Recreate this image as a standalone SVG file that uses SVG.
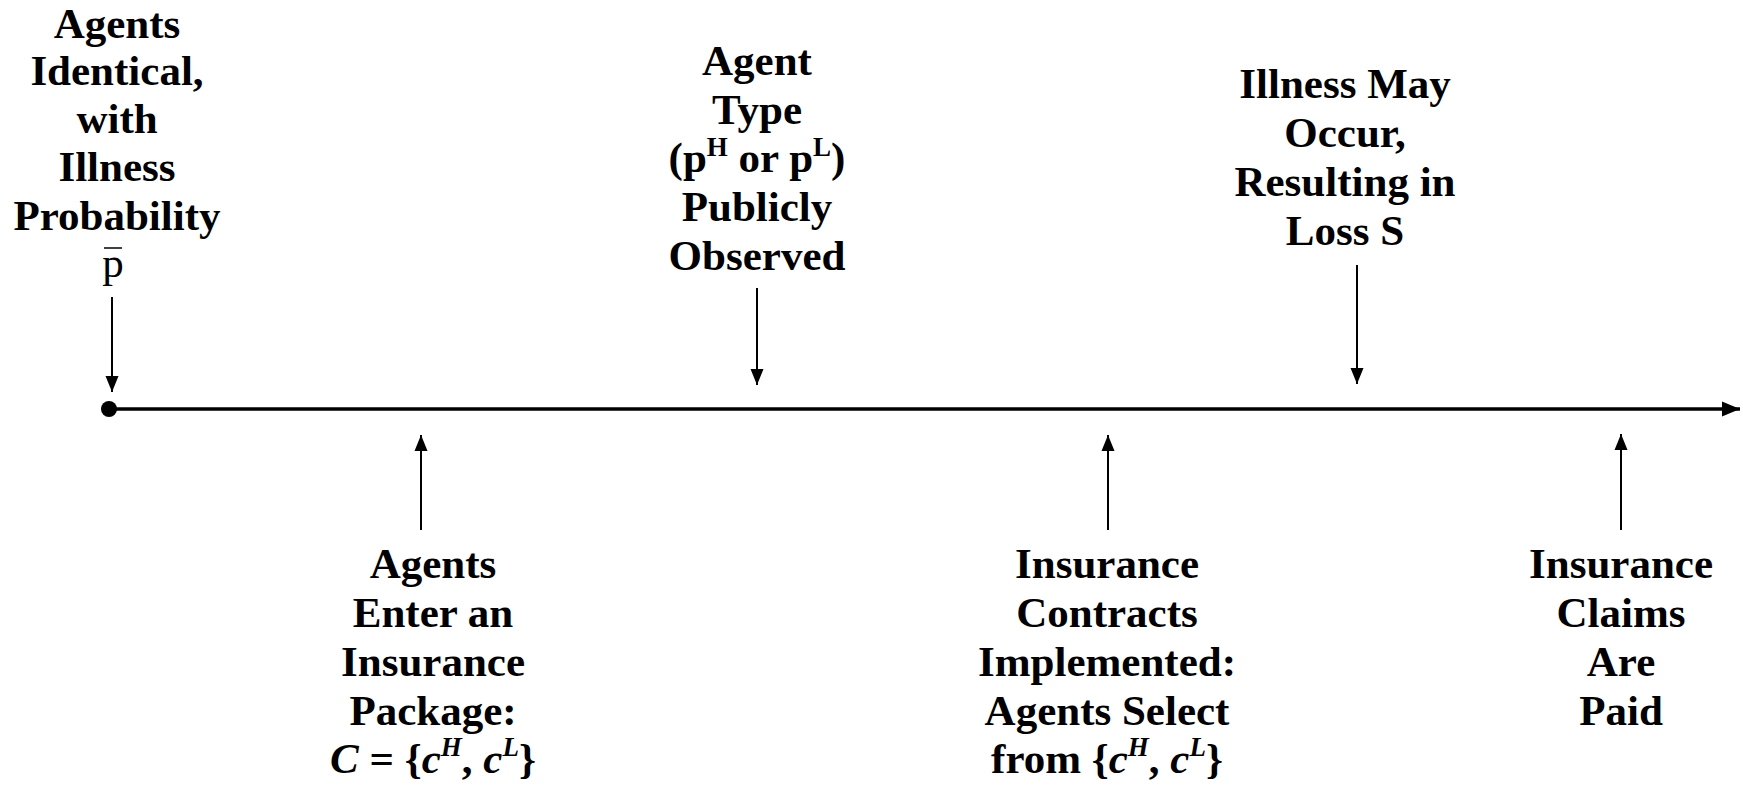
<svg xmlns="http://www.w3.org/2000/svg" width="1743" height="786" viewBox="0 0 1743 786">
<style>
.t{font-family:"Liberation Serif","Times New Roman",serif;font-weight:bold;font-size:43px;fill:#000;text-anchor:middle}
.r{font-weight:normal}
.i{font-style:italic}
.s{font-size:27px}
.c{stroke:#000;stroke-width:2;fill:none}
</style>
<defs>
<marker id="ah" markerUnits="userSpaceOnUse" markerWidth="16" markerHeight="16" viewBox="0 0 16 16" refX="16" refY="8" orient="auto">
<path d="M0,1.5 L16,8 L0,14.5 Z" fill="#000"/>
</marker>
<marker id="bh" markerUnits="userSpaceOnUse" markerWidth="18" markerHeight="18" viewBox="0 0 18 18" refX="18" refY="9" orient="auto">
<path d="M0,1.5 L18,9 L0,16.5 Z" fill="#000"/>
</marker>
</defs>
<rect width="1743" height="786" fill="#fff"/>
<g id="connectors">
<line x1="109" y1="409" x2="1740" y2="409" stroke="#000" stroke-width="3.5" marker-end="url(#bh)"/>
<circle cx="109" cy="409" r="8" fill="#000"/>
<line class="c" x1="112" y1="297" x2="112" y2="392" marker-end="url(#ah)"/>
<line class="c" x1="757" y1="288" x2="757" y2="385" marker-end="url(#ah)"/>
<line class="c" x1="1357" y1="265" x2="1357" y2="384" marker-end="url(#ah)"/>
<line class="c" x1="421" y1="530" x2="421" y2="435" marker-end="url(#ah)"/>
<line class="c" x1="1108" y1="530" x2="1108" y2="435" marker-end="url(#ah)"/>
<line class="c" x1="1621" y1="530" x2="1621" y2="434" marker-end="url(#ah)"/>
</g>
<g id="n1">
<text class="t" x="117" y="38">Agents</text>
<text class="t" x="117" y="85">Identical,</text>
<text class="t" x="117" y="133">with</text>
<text class="t" x="117" y="181">Illness</text>
<text class="t" x="117" y="230">Probability</text>
<text class="t r" x="113" y="277">p</text>
<line x1="104" y1="248" x2="122" y2="248" stroke="#000" stroke-width="1.5"/>
</g>
<g id="n2">
<text class="t" x="757" y="75">Agent</text>
<text class="t" x="757" y="124">Type</text>
<text class="t" x="757" y="172">(p<tspan class="s" dy="-16">H</tspan><tspan dy="16"> or p</tspan><tspan class="s" dy="-16">L</tspan><tspan dy="16">)</tspan></text>
<text class="t" x="757" y="221">Publicly</text>
<text class="t" x="757" y="270">Observed</text>
</g>
<g id="n3">
<text class="t" x="1345" y="98">Illness May</text>
<text class="t" x="1345" y="147">Occur,</text>
<text class="t" x="1345" y="196">Resulting in</text>
<text class="t" x="1345" y="245">Loss S</text>
</g>
<g id="n4">
<text class="t" x="433" y="578">Agents</text>
<text class="t" x="433" y="627">Enter an</text>
<text class="t" x="433" y="676">Insurance</text>
<text class="t" x="433" y="725">Package:</text>
<text class="t" x="433" y="773"><tspan class="i">C</tspan> = {<tspan class="i">c</tspan><tspan class="i s" dy="-17">H</tspan><tspan dy="17">, </tspan><tspan class="i">c</tspan><tspan class="i s" dy="-17">L</tspan><tspan dy="17">}</tspan></text>
</g>
<g id="n5">
<text class="t" x="1107" y="578">Insurance</text>
<text class="t" x="1107" y="627">Contracts</text>
<text class="t" x="1107" y="676">Implemented:</text>
<text class="t" x="1107" y="725">Agents Select</text>
<text class="t" x="1107" y="773">from {<tspan class="i">c</tspan><tspan class="i s" dy="-17">H</tspan><tspan dy="17">, </tspan><tspan class="i">c</tspan><tspan class="i s" dy="-17">L</tspan><tspan dy="17">}</tspan></text>
</g>
<g id="n6">
<text class="t" x="1621" y="578">Insurance</text>
<text class="t" x="1621" y="627">Claims</text>
<text class="t" x="1621" y="676">Are</text>
<text class="t" x="1621" y="725">Paid</text>
</g>
</svg>
